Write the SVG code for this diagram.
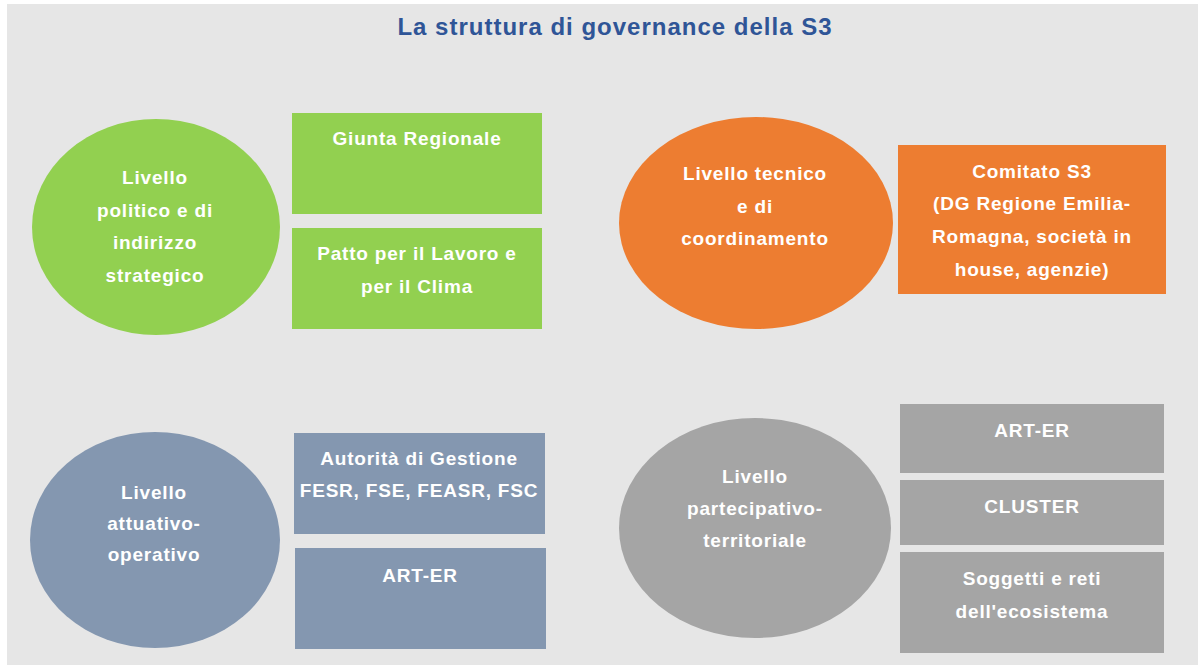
<svg xmlns="http://www.w3.org/2000/svg" width="1198" height="667" viewBox="0 0 1198 667">
<style>
.t{font-family:"Liberation Sans",Arial,sans-serif;font-weight:bold;font-size:19px;letter-spacing:0.8px;fill:#ffffff;text-anchor:middle}
.title{font-family:"Liberation Sans",Arial,sans-serif;font-weight:bold;font-size:24px;letter-spacing:1px;fill:#2f5597;text-anchor:middle}
.green{fill:#92d050}
.orange{fill:#ed7d31}
.blue{fill:#8497b0}
.grey{fill:#a5a5a5}
</style>
<rect x="0" y="0" width="1198" height="667" fill="#ffffff"/>
<rect x="7" y="4" width="1191" height="661" fill="#e6e6e6"/>
<text class="title" x="615" y="35">La struttura di governance della S3</text>
<g id="connectors"></g>
<g id="politico">
<ellipse class="green" cx="156" cy="227" rx="124" ry="108"/>
<text class="t" x="155" y="184">Livello</text>
<text class="t" x="155" y="217">politico e di</text>
<text class="t" x="155" y="249">indirizzo</text>
<text class="t" x="155" y="282">strategico</text>
</g>
<g id="giunta">
<rect class="green" x="292" y="113" width="250" height="101"/>
<text class="t" x="417" y="145">Giunta Regionale</text>
</g>
<g id="patto">
<rect class="green" x="292" y="228" width="250" height="101"/>
<text class="t" x="417" y="260">Patto per il Lavoro e</text>
<text class="t" x="417" y="293">per il Clima</text>
</g>
<g id="tecnico">
<ellipse class="orange" cx="756" cy="223" rx="137" ry="106"/>
<text class="t" x="755" y="180">Livello tecnico</text>
<text class="t" x="755" y="213">e di</text>
<text class="t" x="755" y="245">coordinamento</text>
</g>
<g id="comitato">
<rect class="orange" x="898" y="145" width="268" height="149"/>
<text class="t" x="1032" y="178">Comitato S3</text>
<text class="t" x="1032" y="210">(DG Regione Emilia-</text>
<text class="t" x="1032" y="243">Romagna, società in</text>
<text class="t" x="1032" y="276">house, agenzie)</text>
</g>
<g id="attuativo">
<ellipse class="blue" cx="155" cy="540" rx="125" ry="108"/>
<text class="t" x="154" y="499">Livello</text>
<text class="t" x="154" y="530">attuativo-</text>
<text class="t" x="154" y="561">operativo</text>
</g>
<g id="autorita">
<rect class="blue" x="294" y="433" width="251" height="101"/>
<text class="t" x="419" y="465">Autorità di Gestione</text>
<text class="t" x="419" y="497">FESR, FSE, FEASR, FSC</text>
</g>
<g id="arter1">
<rect class="blue" x="295" y="548" width="251" height="101"/>
<text class="t" x="420" y="582">ART-ER</text>
</g>
<g id="partecipativo">
<ellipse class="grey" cx="755" cy="528" rx="136" ry="110"/>
<text class="t" x="755" y="483">Livello</text>
<text class="t" x="755" y="515">partecipativo-</text>
<text class="t" x="755" y="547">territoriale</text>
</g>
<g id="arter2">
<rect class="grey" x="900" y="404" width="264" height="69"/>
<text class="t" x="1032" y="437">ART-ER</text>
</g>
<g id="cluster">
<rect class="grey" x="900" y="480" width="264" height="65"/>
<text class="t" x="1032" y="513">CLUSTER</text>
</g>
<g id="soggetti">
<rect class="grey" x="900" y="552" width="264" height="101"/>
<text class="t" x="1032" y="585">Soggetti e reti</text>
<text class="t" x="1032" y="618">dell'ecosistema</text>
</g>
</svg>
